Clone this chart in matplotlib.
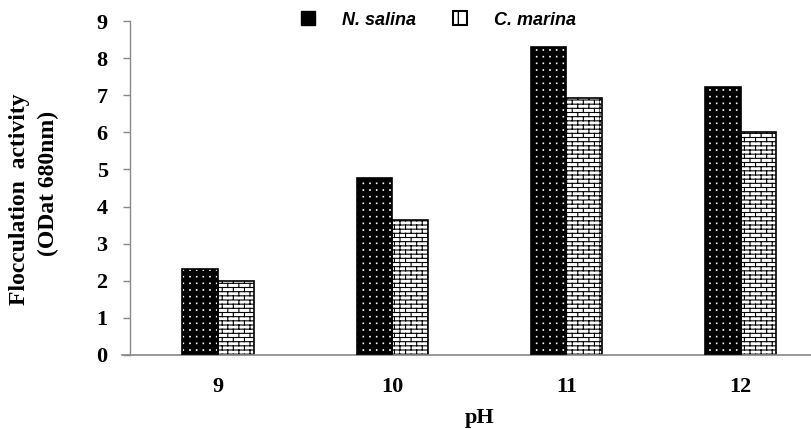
import warnings
warnings.filterwarnings("ignore")
import numpy as np
import matplotlib
matplotlib.use("Agg")
import matplotlib.pyplot as plt
from matplotlib import hatch as mhatch
from matplotlib.path import Path
from matplotlib.patches import Patch

# ---- data ----
categories = ["9", "10", "11", "12"]
n_salina = [2.33, 4.78, 8.30, 7.22]
c_marina = [1.99, 3.63, 6.93, 6.01]
series_names = ["N. salina", "C. marina"]
y_ticks = [0, 1, 2, 3, 4, 5, 6, 7, 8, 9]


# ---- custom brick hatch (character 'b') ----
class BrickHatch(mhatch.HatchPatternBase):
    def __init__(self, hatch, density):
        self.on = 'b' in hatch
        self.rows = 24
        self.cols = 9
        if self.on:
            self.num_vertices = 2 * (self.rows + 1) + 2 * self.rows * (self.cols + 1)
        else:
            self.num_vertices = 0

    def set_vertices_and_codes(self, vertices, codes):
        k = 0
        for i in range(self.rows + 1):
            y = i / self.rows
            vertices[k] = (0.0, y); codes[k] = Path.MOVETO; k += 1
            vertices[k] = (1.0, y); codes[k] = Path.LINETO; k += 1
        for i in range(self.rows):
            y0 = i / self.rows
            y1 = (i + 1) / self.rows
            off = 0.5 * (i % 2)
            for j in range(self.cols + 1):
                xx = min((j + off) / self.cols, 1.0)
                vertices[k] = (xx, y0); codes[k] = Path.MOVETO; k += 1
                vertices[k] = (xx, y1); codes[k] = Path.LINETO; k += 1


# ---- custom tiny grid-dot hatch (character 'd') ----
class DotHatch(mhatch.HatchPatternBase):
    def __init__(self, hatch, density):
        self.on = 'd' in hatch
        self.n = 15
        self.s = 0.004
        self.num_vertices = 5 * self.n * self.n if self.on else 0

    def set_vertices_and_codes(self, vertices, codes):
        k = 0
        s = self.s
        for i in range(self.n):
            for j in range(self.n):
                cx = (i + 0.5) / self.n
                cy = (j + 0.5) / self.n
                pts = [(cx - s, cy - s), (cx + s, cy - s), (cx + s, cy + s),
                       (cx - s, cy + s), (cx - s, cy - s)]
                cds = [Path.MOVETO, Path.LINETO, Path.LINETO, Path.LINETO, Path.CLOSEPOLY]
                for p, c in zip(pts, cds):
                    vertices[k] = p; codes[k] = c; k += 1


mhatch._hatch_types.append(BrickHatch)
mhatch._hatch_types.append(DotHatch)

fig = plt.figure(figsize=(8.12, 4.29), dpi=100)
ax = fig.add_axes([0.160, 0.1725, 0.840, 0.7785])

x = np.arange(len(categories))
w = 0.205

# N. salina: black with white dots
plt.rcParams['hatch.linewidth'] = 0.6
ax.bar(x - w / 2, n_salina, width=w, color='black', edgecolor='white',
       linewidth=0, hatch='d', zorder=2)
ax.bar(x - w / 2, n_salina, width=w, fill=False, edgecolor='black',
       linewidth=1.2, zorder=3)
# C. marina: white with black bricks
plt.rcParams['hatch.linewidth'] = 0.8
ax.bar(x + w / 2, c_marina, width=w, color='white', edgecolor='black',
       linewidth=1.2, hatch='b', zorder=2)

ax.set_xlim(-0.506, 3.41)
ax.set_ylim(0, 9)
ax.set_yticks(y_ticks)
ax.set_xticks(x)
ax.set_xticklabels(categories)

serif = ['Liberation Serif', 'DejaVu Serif']
for lab in ax.get_yticklabels() + ax.get_xticklabels():
    lab.set_family(serif)
    lab.set_fontweight('bold')
    lab.set_fontsize(16)

ax.tick_params(axis='y', length=5, width=1, color='#888888', pad=11)
ax.tick_params(axis='x', length=0, pad=16)

for s in ['top', 'right']:
    ax.spines[s].set_visible(False)
ax.spines['left'].set_color('#888888')
ax.spines['bottom'].set_color('#888888')
ax.spines['left'].set_linewidth(1)
ax.spines['bottom'].set_linewidth(1.2)
ax.spines['bottom'].set_bounds(-0.55, 3.41)

# y-axis label (two lines, placed in figure pixels)
fig.text(20 / 812, 1 - 199 / 429, "Flocculation  activity", family=serif,
         fontweight='bold', fontsize=17, rotation=90, ha='center', va='center')
fig.text(48 / 812, 1 - 183 / 429, "(ODat 680nm)", family=serif,
         fontweight='bold', fontsize=17, rotation=90, ha='center', va='center')
ax.text(1.5, -1.70, "pH", family=serif, fontweight='bold', fontsize=16,
        ha='center', va='center')

# legend
plt.rcParams['hatch.linewidth'] = 1.0
h1 = Patch(facecolor='black', edgecolor='black')
h2 = Patch(facecolor='white', edgecolor='black', hatch='+', linewidth=1.5)
leg = fig.legend([h1, h2], series_names, loc='center', bbox_to_anchor=(0.54, 1 - 20 / 429),
                 ncol=2, frameon=False, handlelength=0.77, handleheight=0.77,
                 columnspacing=2.1, handletextpad=1.45,
                 prop={'family': ['Liberation Sans', 'DejaVu Sans'], 'weight': 'bold',
                       'style': 'italic', 'size': 13})

fig.savefig("out.png", dpi=100)
